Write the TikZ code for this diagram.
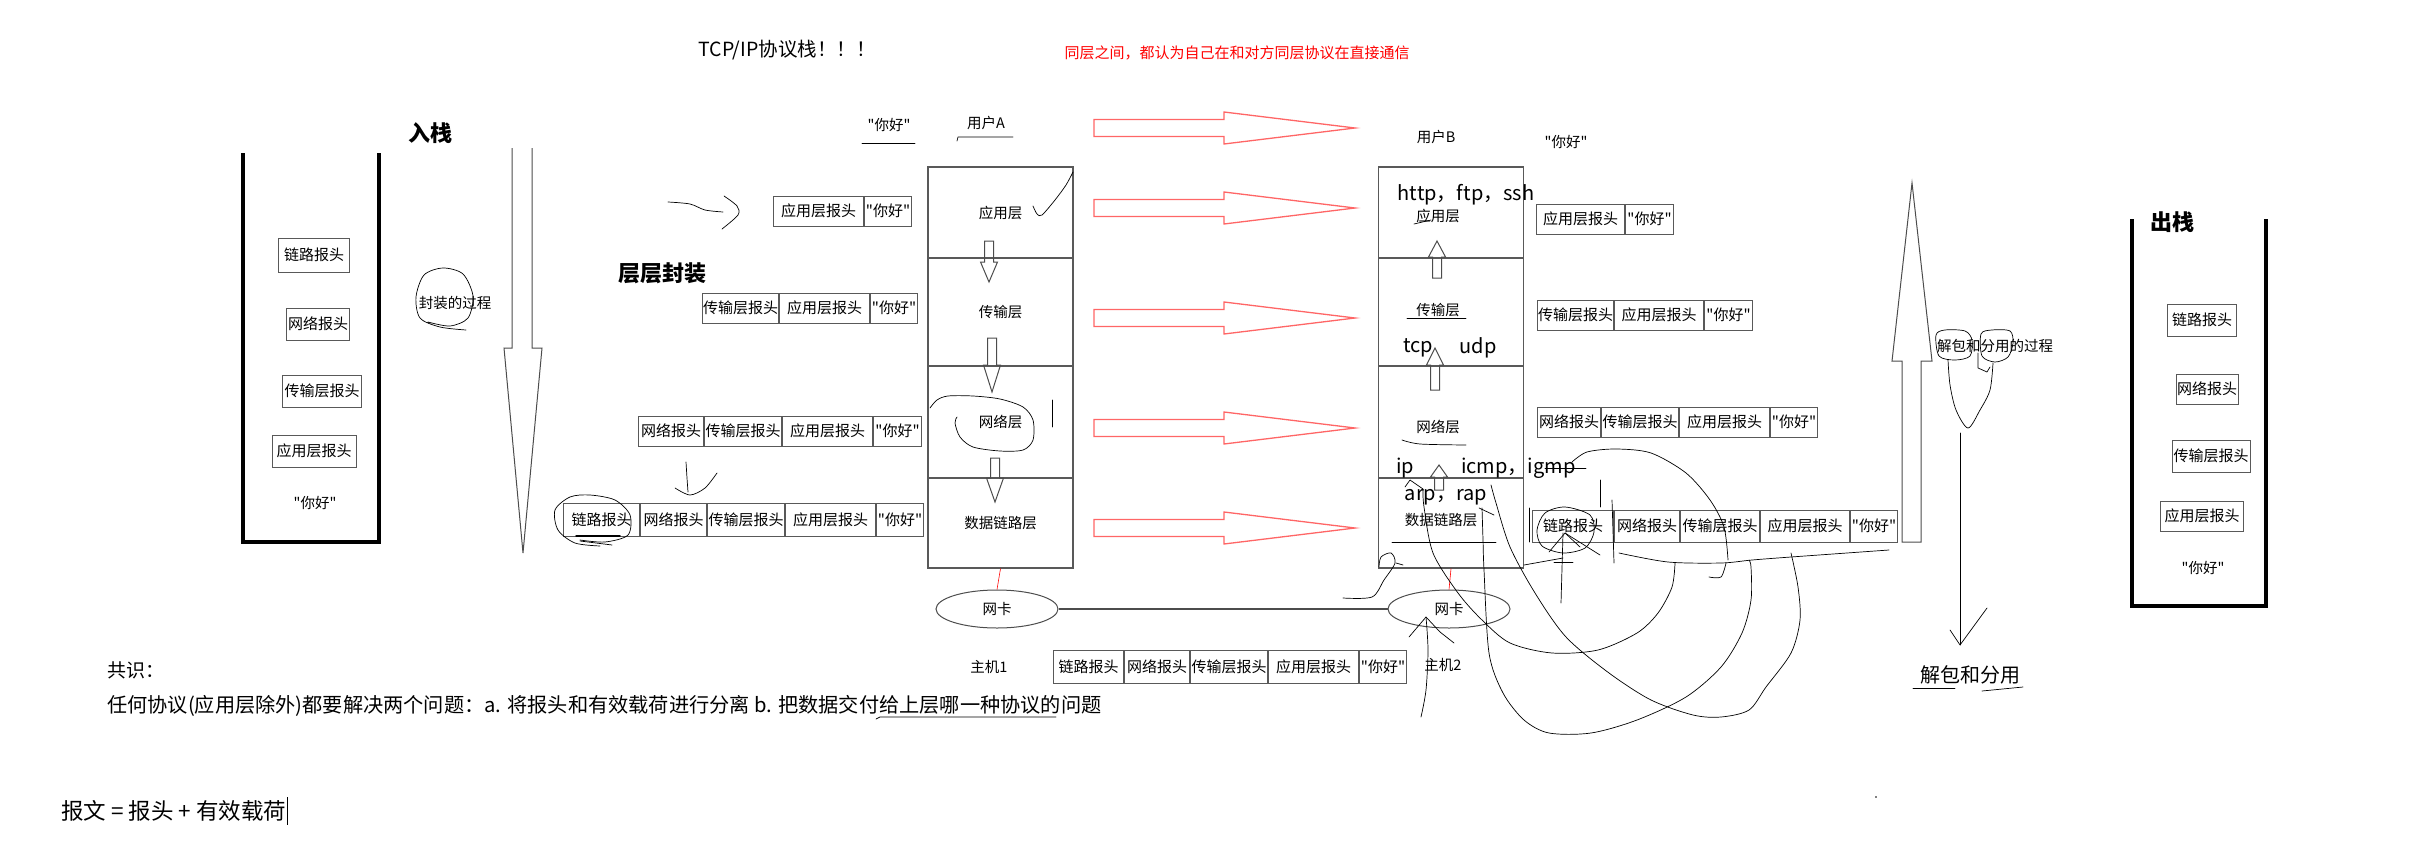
\documentclass[tikz,border=0pt]{standalone}
\usepackage{fontspec}
\setmainfont{Noto Sans CJK SC}[Ligatures=TeXOff]
\usetikzlibrary{positioning,shapes.geometric}

\tikzset{
  cell/.style={draw=gray!70!black, line width=1pt, inner sep=0pt, minimum height=30pt, font=\fontsize{15}{17}\selectfont},
  layer/.style={draw=gray!70!black, line width=1.2pt, inner sep=0pt, minimum width=145pt, font=\fontsize{14.5}{16}\selectfont},
  lbl/.style={inner sep=0pt, font=\fontsize{14.5}{16}\selectfont},
  proto/.style={inner sep=0pt, font=\fontsize{20}{22}\selectfont},
  headline/.style={inner sep=0pt, font=\fontsize{22}{24}\selectfont\bfseries},
  redarrow/.style={draw=red!60, line width=1.3pt},
  hollow/.style={draw=gray!60!black, line width=1pt},
  wall/.style={line width=4pt},
  nic/.style={ellipse, draw=gray!60!black, line width=1pt, minimum width=122pt, minimum height=38pt, inner sep=0pt, font=\fontsize{14.5}{16}\selectfont},
  scribble/.style={line width=0.7pt, line cap=round, line join=round},
}

\begin{document}
\begin{tikzpicture}[x=1pt,y=-1pt]
            \useasboundingbox (0,0) rectangle (2419,867);

            % Titles
            \node[inner sep=0pt, font=\fontsize{19.5}{21}\selectfont] (title) at (787,50) {TCP/IP协议栈！！！};
            \node[inner sep=0pt, text=red, font=\fontsize{15}{17}\selectfont] (peer) at (1237,53) {同层之间，都认为自己在和对方同层协议在直接通信};
            \node[headline] (push) at (430,133) {入栈};
            \node[headline] (wrap) at (662,273) {层层封装};
            \node[headline] (pop) at (2172,222) {出栈};

            % Left stack
            \draw[wall] (243,153) -- (243,542) -- (379,542) -- (379,153);
            \node[cell, minimum width=71pt, minimum height=34pt] (ls1) at (314,255) {链路报头};
            \node[cell, minimum width=63pt, minimum height=32pt] (ls2) at (318,324) {网络报头};
            \node[cell, minimum width=79pt, minimum height=32pt] (ls3) at (322,391) {传输层报头};
            \node[cell, minimum width=84pt, minimum height=32pt] (ls4) at (314,451) {应用层报头};
            \node[lbl] (ls5) at (315,503) {"你好"};

            % Encapsulation arrow
            \node[lbl] (encap) at (455,303) {封装的过程};
            \draw[hollow] (512,148) -- (512,348) -- (504,348) -- (523,553) -- (542,348) -- (532,348) -- (532,148);

            % Packets of host A
            \node[cell, minimum width=90pt, anchor=west] (a1a) at (773,211) {应用层报头};
            \node[cell, minimum width=47pt, right=0pt of a1a] (a1b) {"你好"};
            \node[cell, minimum width=76pt, anchor=west] (a2a) at (702,308) {传输层报头};
            \node[cell, minimum width=90pt, right=0pt of a2a] (a2b) {应用层报头};
            \node[cell, minimum width=47pt, right=0pt of a2b] (a2c) {"你好"};
            \node[cell, minimum width=65pt, anchor=west] (a3a) at (638,431) {网络报头};
            \node[cell, minimum width=77pt, right=0pt of a3a] (a3b) {传输层报头};
            \node[cell, minimum width=90pt, right=0pt of a3b] (a3c) {应用层报头};
            \node[cell, minimum width=48pt, right=0pt of a3c] (a3d) {"你好"};
            \node[cell, minimum width=76pt, minimum height=33pt, anchor=west] (a4a) at (563,520) {链路报头};
            \node[cell, minimum width=66pt, minimum height=33pt, right=0pt of a4a] (a4b) {网络报头};
            \node[cell, minimum width=77pt, minimum height=33pt, right=0pt of a4b] (a4c) {传输层报头};
            \node[cell, minimum width=90pt, minimum height=33pt, right=0pt of a4c] (a4d) {应用层报头};
            \node[cell, minimum width=47pt, minimum height=33pt, right=0pt of a4d] (a4e) {"你好"};

            % Host A
            \node[lbl] (msgA) at (889,125) {"你好"};
            \node[lbl] (userA) at (986,123) {用户A};
            \draw[scribble] (862,143) -- (915,143);
            \draw[scribble] (957,141) -- (958,137) -- (1013,137);
            \node[layer, minimum height=91pt] (a-app) at (1000.5,212.5) {应用层};
            \node[layer, minimum height=108pt] (a-trans) at (1000.5,312) {传输层};
            \node[layer, minimum height=112pt] (a-net) at (1000.5,422) {网络层};
            \node[layer, minimum height=90pt] (a-link) at (1000.5,523) {数据链路层};
            \foreach \x/\a/\b/\c in {989/241/262/282, 992/338/365/392, 995/458/478/502}
                \draw[hollow] (\x-4.5,\a) -- (\x-4.5,\b) -- (\x-8.5,\b) -- (\x,\c) -- (\x+8.5,\b) -- (\x+4.5,\b) -- (\x+4.5,\a) -- cycle;

            % Peer arrows
            \foreach \y in {128,208,318,428,528}
                \draw[redarrow] (1094,\y-8.5) -- (1224,\y-8.5) -- (1224,\y-16) -- (1355,\y) -- (1224,\y+16) -- (1224,\y+8.5) -- (1094,\y+8.5) -- cycle;

            % Host B
            \node[lbl] (userB) at (1436,137) {用户B};
            \node[lbl] (msgB) at (1566,142) {"你好"};
            \node[layer, minimum height=91pt] (b-app) at (1451,212.5) {};
            \node[layer, minimum height=108pt] (b-trans) at (1451,312) {};
            \node[layer, minimum height=112pt] (b-net) at (1451,422) {};
            \node[layer, minimum height=90pt] (b-link) at (1451,523) {};
            \node[proto] (http) at (1466,195) {http，ftp，ssh};
            \node[lbl] (b-app-t) at (1438,216) {应用层};
            \node[lbl] (b-trans-t) at (1438,310) {传输层};
            \node[proto] (tcp) at (1418,348) {tcp};
            \node[proto] (udp) at (1478,348) {udp};
            \node[lbl] (b-net-t) at (1438,427) {网络层};
            \node[proto] (ip) at (1405,468) {ip};
            \node[proto, anchor=west] (icmp) at (1461,468) {icmp，igmp};
            \node[proto] (arp) at (1446,497) {arp，rap};
            \node[lbl] (b-link-t) at (1441,520) {数据链路层};
            \foreach \x/\a/\b/\c in {1437/278/257/241, 1435/390/365/348, 1439/490/477/465}
                \draw[hollow] (\x-4.5,\a) -- (\x-4.5,\b) -- (\x-8.5,\b) -- (\x,\c) -- (\x+8.5,\b) -- (\x+4.5,\b) -- (\x+4.5,\a) -- cycle;

            % Packets of host B
            \node[cell, minimum width=88pt, anchor=west] (b1a) at (1536,219) {应用层报头};
            \node[cell, minimum width=48pt, right=0pt of b1a] (b1b) {"你好"};
            \node[cell, minimum width=76pt, anchor=west] (b2a) at (1537,315) {传输层报头};
            \node[cell, minimum width=89pt, right=0pt of b2a] (b2b) {应用层报头};
            \node[cell, minimum width=48pt, right=0pt of b2b] (b2c) {"你好"};
            \node[cell, minimum width=63pt, anchor=west] (b3a) at (1537,422) {网络报头};
            \node[cell, minimum width=77pt, right=0pt of b3a] (b3b) {传输层报头};
            \node[cell, minimum width=90pt, right=0pt of b3b] (b3c) {应用层报头};
            \node[cell, minimum width=47pt, right=0pt of b3c] (b3d) {"你好"};
            \node[cell, minimum width=81pt, minimum height=32pt, anchor=west] (b4a) at (1532,526) {链路报头};
            \node[cell, minimum width=65pt, minimum height=32pt, right=0pt of b4a] (b4b) {网络报头};
            \node[cell, minimum width=79pt, minimum height=32pt, right=0pt of b4b] (b4c) {传输层报头};
            \node[cell, minimum width=89pt, minimum height=32pt, right=0pt of b4c] (b4d) {应用层报头};
            \node[cell, minimum width=47pt, minimum height=32pt, right=0pt of b4d] (b4e) {"你好"};

            % Decapsulation arrows
            \draw[hollow] (1902,542) -- (1902,361) -- (1892,361) -- (1912,183) -- (1932,361) -- (1921,361) -- (1921,542) -- cycle;
            \node[lbl, anchor=west] (decap) at (1937,346) {解包和分用的过程};
            \node[inner sep=0pt, font=\fontsize{20}{22}\selectfont] (demux) at (1970,675) {解包和分用};

            % Right stack
            \draw[wall] (2132,219) -- (2132,606) -- (2266,606) -- (2266,219);
            \node[cell, minimum width=69pt, minimum height=32pt] (rs1) at (2202,320) {链路报头};
            \node[cell, minimum width=62pt] (rs2) at (2207,389) {网络报头};
            \node[cell, minimum width=78pt, minimum height=32pt] (rs3) at (2211,456) {传输层报头};
            \node[cell, minimum width=83pt] (rs4) at (2202,516) {应用层报头};
            \node[lbl] (rs5) at (2203,568) {"你好"};

            % Network cards
            \node[nic] (nicA) at (997,609) {网卡};
            \node[nic] (nicB) at (1449,609) {网卡};
            \draw[line width=2.5pt, gray!60!black] (nicA) -- (nicB);
            \draw[red, line width=0.6pt] (a-link.south) -- (nicA.north);
            \draw[red, line width=0.6pt] (b-link.south) -- (nicB.north);
            \node[lbl] (host1) at (989,667) {主机1};
            \node[lbl] (host2) at (1443,665) {主机2};
            \node[cell, minimum width=70pt, minimum height=33pt, anchor=west] (w1) at (1053,667) {链路报头};
            \node[cell, minimum width=65pt, minimum height=33pt, right=0pt of w1] (w2) {网络报头};
            \node[cell, minimum width=77pt, minimum height=33pt, right=0pt of w2] (w3) {传输层报头};
            \node[cell, minimum width=90pt, minimum height=33pt, right=0pt of w3] (w4) {应用层报头};
            \node[cell, minimum width=47pt, minimum height=33pt, right=0pt of w4] (w5) {"你好"};

            % Notes
            \node[inner sep=0pt, anchor=west, font=\fontsize{19}{21}\selectfont] (agree) at (107,670) {共识：};
            \node[inner sep=0pt, anchor=west, font=\fontsize{20.2}{22}\selectfont] (rule) at (107,706) {任何协议(应用层除外)都要解决两个问题：a. 将报头和有效载荷进行分离 b. 把数据交付给上层哪一种协议的问题};
            \draw[scribble] (876,719) -- (880,717) -- (1056,717);
            \node[inner sep=0pt, anchor=west, font=\fontsize{22.5}{24}\selectfont] (msgdef) at (61,811) {报文 = 报头 + 有效载荷};
            \draw[line width=0.8pt] (msgdef.east) ++(1,-14) -- ++(0,28);

            % Scribbles, left side
            \draw[scribble] plot[smooth] coordinates {(668,202) (690,204) (705,210) (723,212)};
            \draw[scribble] plot[smooth] coordinates {(724,196) (737,206) (738,215) (722,229)};
            \draw[scribble] plot[smooth] coordinates {(466,330) (440,327) (420,318) (416,297) (424,275) (443,268) (463,274) (473,296) (468,318) (450,326) (428,322)};
            \draw[scribble] plot[smooth] coordinates {(686,462) (687,478) (688,492)};
            \draw[scribble] plot[smooth] coordinates {(675,488) (690,495) (705,488) (717,473)};
            \draw[scribble] plot[smooth] coordinates {(600,546) (575,543) (558,530) (555,510) (570,497) (590,495) (615,500) (630,515) (628,535) (605,542) (580,540)};
            \draw[scribble, line width=1.5pt] (576,536) -- (620,536);
            \draw[scribble] (580,541) -- (612,545);

            % Scribbles, host A
            \draw[scribble] plot[smooth] coordinates {(1033,206) (1037,214) (1042,215) (1055,200) (1066,185) (1073,172)};
            \draw[scribble] plot[smooth] coordinates {(930,408) (937,400) (948,396) (973,396) (1000,399) (1023,407) (1033,420) (1033,440) (1023,450) (1000,451) (973,447) (960,437) (955,423) (957,417)};
            \draw[scribble] (1052,400) -- (1052,427);

            % Scribbles, host B
            \draw[scribble] (1414,224) -- (1431,220);
            \draw[scribble] (1407,318) -- (1466,318);
            \draw[scribble] plot[smooth] coordinates {(1402,440) (1420,444) (1466,445)};
            \draw[scribble] (1392,542) -- (1496,542);
            \draw[scribble] (1545,468) -- (1586,468);
            \draw[scribble] (1405,487) -- (1410,480) -- (1423,489);
            \draw[scribble] (1479,508) -- (1494,515);
            \draw[scribble] plot[smooth] coordinates {(1491,485) (1496,503) (1510,547) (1535,593) (1566,637) (1609,673) (1651,700) (1693,715) (1721,717) (1749,710) (1766,687) (1791,653) (1800,620) (1798,587) (1791,553)};
            \draw[scribble] plot[smooth] coordinates {(1482,508) (1483,540) (1484,570) (1489,653) (1503,693) (1524,720) (1549,733) (1591,733) (1637,720) (1686,697) (1721,667) (1742,633) (1751,600) (1751,567) (1749,560)};
            \draw[scribble] plot[smooth] coordinates {(1423,490) (1424,507) (1433,553) (1458,593) (1482,620) (1510,643) (1552,653) (1598,650) (1637,633) (1658,613) (1672,587) (1675,563)};
            \draw[scribble] plot[smooth] coordinates {(1572,462) (1587,452) (1616,449) (1651,453) (1686,473) (1710,500) (1724,527) (1728,560)};
            \draw[scribble] plot[smooth] coordinates {(1726,563) (1721,577) (1709,577)};
            \draw[scribble] plot[smooth] coordinates {(1619,553) (1668,562) (1721,563) (1752,560) (1791,557) (1889,550)};
            \draw[scribble] (1563,533) -- (1561,603);
            \draw[scribble] (1612,500) -- (1614,563);
            \draw[scribble] (1600,480) -- (1600,507);
            \draw[scribble] (1529,508) -- (1529,542);
            \draw[scribble] plot[smooth cycle] coordinates {(1565,507) (1590,515) (1594,532) (1585,548) (1563,553) (1542,546) (1537,530) (1545,513)};
            \draw[scribble] (1549,552) -- (1565,533) -- (1580,547);
            \draw[scribble] (1565,533) -- (1600,555);
            \draw[scribble] (1554,562) -- (1573,562);
            \draw[scribble] (1524,565) -- (1563,558);
            \draw[scribble] plot[smooth] coordinates {(1343,598) (1372,597) (1384,580) (1395,563) (1391,553) (1381,557) (1379,567)};
            \draw[scribble] (1396,563) -- (1403,565);
            \draw[scribble] plot[smooth] coordinates {(1426,617) (1428,650) (1426,690) (1421,717)};
            \draw[scribble] (1409,637) -- (1426,617) -- (1440,632) -- (1454,643);

            % Scribbles, right side
            \draw[scribble] plot[smooth cycle] coordinates {(1936,335) (1945,330) (1965,331) (1972,340) (1970,356) (1955,360) (1939,356)};
            \draw[scribble] plot[smooth cycle] coordinates {(1981,334) (1992,330) (2010,331) (2013,343) (2008,357) (1995,362) (1982,356)};
            \draw[scribble] plot[smooth] coordinates {(1948,360) (1950,385) (1956,410) (1968,428) (1980,410) (1990,390) (1993,363)};
            \draw[scribble] (1978,353) -- (1978,368) -- (1987,372) -- (1990,367);
            \draw[scribble] (1960,433) -- (1960,645);
            \draw[scribble] (1950,630) -- (1960,645) -- (1987,608);
            \draw[scribble] (1913,688) -- (1955,688);
            \draw[scribble] (1982,691) -- (2023,687);
            \fill (1876,797) circle (0.8);
\end{tikzpicture}
\end{document}
